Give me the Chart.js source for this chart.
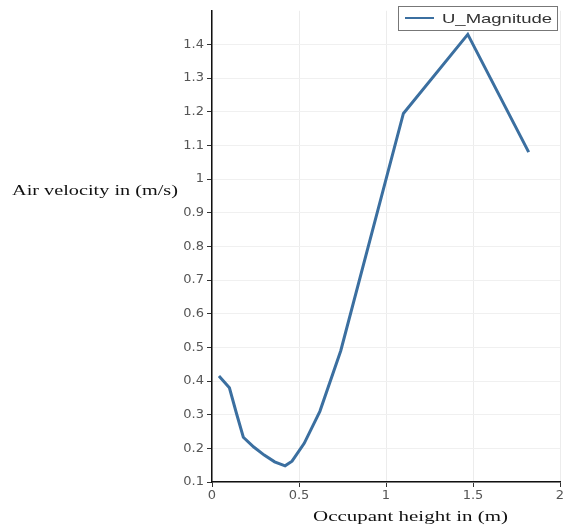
<!DOCTYPE html>
<html>
<head>
<meta charset="utf-8">
<script src="https://cdn.jsdelivr.net/npm/chart.js@4"></script>
<style>
  html, body { margin: 0; padding: 0; background: #fff; }
  #wrap { width: 565px; height: 527px; }
</style>
</head>
<body>
<div id="wrap"><canvas id="grafico" width="565" height="527"></canvas></div>
<script>
// dados
const heights = [0.04, 0.1, 0.14, 0.18, 0.24, 0.3, 0.36, 0.42, 0.46, 0.53, 0.62, 0.74, 1.1, 1.47, 1.82];
const velocities = [0.415, 0.38, 0.305, 0.233, 0.204, 0.18, 0.16, 0.148, 0.162, 0.215, 0.31, 0.49, 1.195, 1.43, 1.08];
const seriesName = 'U_Magnitude';
const xTitle = 'Occupant height in (m)';
const yTitle = 'Air velocity in (m/s)';

const lineColor = '#3b6fa0';

// texto esticado na horizontal ate a largura pedida
function wideText(c, text, x, y, width) {
    const w = c.measureText(text).width;
    c.save();
    c.translate(x, y);
    c.scale(width / w, 1);
    c.fillText(text, 0, 0);
    c.restore();
}

// titulos dos eixos e legenda dentro do grafico
const extras = {
    id: 'extras',
    afterDraw(chart) {
        const c = chart.ctx;
        c.save();
        c.fillStyle = '#111';
        c.font = '15px "Liberation Serif", serif';
        c.textBaseline = 'middle';
        c.textAlign = 'left';
        wideText(c, yTitle, 12, 191, 166);
        wideText(c, xTitle, 313, 517, 195);

        // legenda
        const bx = 398, by = 6, bw = 159, bh = 24;
        c.fillStyle = '#fff';
        c.fillRect(bx, by, bw, bh);
        c.strokeStyle = '#777';
        c.lineWidth = 1;
        c.strokeRect(bx + 0.5, by + 0.5, bw, bh);
        c.strokeStyle = lineColor;
        c.lineWidth = 2;
        c.beginPath();
        c.moveTo(bx + 7, by + 12);
        c.lineTo(bx + 36, by + 12);
        c.stroke();
        c.fillStyle = '#333';
        c.font = '13px "Liberation Sans", sans-serif';
        wideText(c, seriesName, bx + 44, by + 13, 110);
        c.restore();
    }
};

const tickFmt = v => Number(v.toFixed(2)).toString();

const ctx = document.getElementById('grafico').getContext('2d');
new Chart(ctx, {
    type: 'line',
    data: {
        datasets: [{
            label: seriesName,
            data: heights.map((h, i) => ({ x: h, y: velocities[i] })),
            borderColor: lineColor,
            borderWidth: 3,
            pointRadius: 0,
            tension: 0,
            fill: false
        }]
    },
    options: {
        responsive: false,
        animation: false,
        layout: { padding: { top: 10, right: 0, left: 0, bottom: 0 } },
        plugins: {
            legend: { display: false },
            tooltip: { enabled: false }
        },
        scales: {
            x: {
                type: 'linear',
                min: 0,
                max: 2,
                ticks: {
                    stepSize: 0.5,
                    color: '#555',
                    font: { size: 13, family: '"DejaVu Sans", sans-serif' },
                    padding: 1,
                    callback: tickFmt
                },
                grid: { color: '#ececec', tickColor: '#333', tickLength: 5 },
                border: { color: '#111', width: 1.5 },
                afterFit(scale) {
                    scale.height = 45;
                    scale.paddingRight = 5;
                }
            },
            y: {
                type: 'linear',
                min: 0.1,
                max: 1.5,
                ticks: {
                    stepSize: 0.1,
                    color: '#555',
                    font: { size: 13, family: '"DejaVu Sans", sans-serif' },
                    padding: 3,
                    callback: tickFmt
                },
                afterBuildTicks(scale) {
                    scale.ticks = scale.ticks.filter(t => t.value < 1.45);
                },
                grid: { color: '#f0f0f0', tickColor: '#333', tickLength: 5 },
                border: { color: '#111', width: 1.5 },
                afterFit(scale) { scale.width = 212; }
            }
        }
    },
    plugins: [extras]
});
</script>
</body>
</html>
